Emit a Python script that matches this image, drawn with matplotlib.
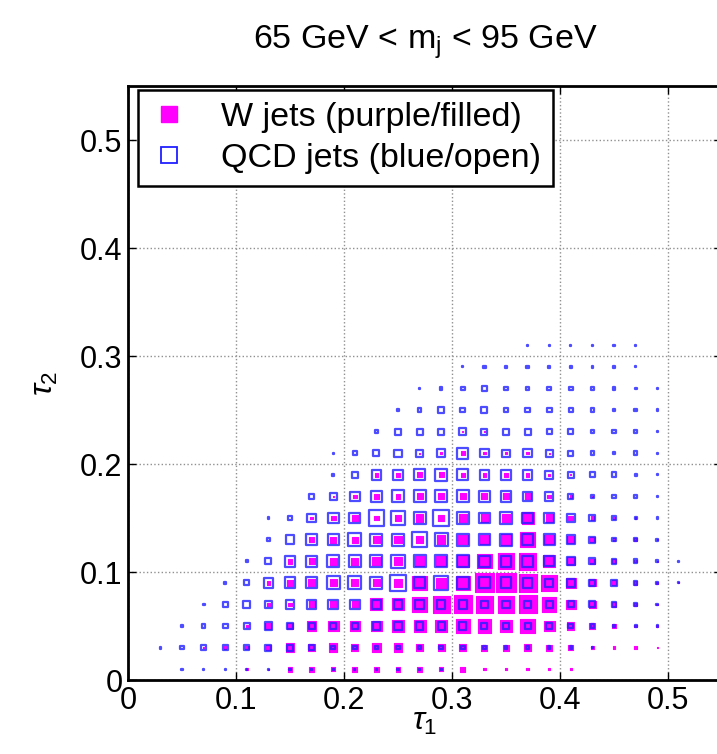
import numpy as np
import matplotlib
matplotlib.use("Agg")
import matplotlib.pyplot as plt
from matplotlib.patches import Rectangle
from matplotlib.collections import PatchCollection
from matplotlib.lines import Line2D

plt.rcParams['font.family'] = ['Liberation Sans', 'DejaVu Sans']
plt.rcParams['mathtext.fontset'] = 'custom'
plt.rcParams['mathtext.rm'] = 'Liberation Sans'
plt.rcParams['mathtext.it'] = 'Liberation Sans:italic'

# Bin centres of the 2D histogram
tau1_centres = [0.03, 0.05, 0.07, 0.09, 0.11, 0.13, 0.15, 0.17, 0.19, 0.21, 0.23,
                0.25, 0.27, 0.29, 0.31, 0.33, 0.35, 0.37, 0.39, 0.41, 0.43, 0.45,
                0.47, 0.49, 0.51]
tau2_centres = [0.01, 0.03, 0.05, 0.07, 0.09, 0.11, 0.13, 0.15, 0.17, 0.19, 0.21,
                0.23, 0.25, 0.27, 0.29, 0.31]
bin_width = 0.02
full_box = 18.0  # box value that fills a whole bin

# Relative box sizes, one row per tau2 bin (bottom to top), one column per tau1 bin
w_jets = [
    [0, 0, 0, 0, 2, 1, 4, 4, 3, 4, 4, 4, 4, 3, 4, 2, 2, 2, 2, 2, 0, 0, 0, 0, 0],
    [0, 0, 1, 2, 3, 4, 7, 6, 7, 6, 7, 7, 6, 6, 6, 5, 5, 6, 5, 4, 3, 2, 2, 1, 0],
    [0, 0, 0, 0, 2, 5, 5, 8, 9, 8, 9, 10, 10, 10, 12, 11, 10, 12, 9, 6, 5, 3, 2, 1.5, 0],
    [0, 0, 0, 0, 0, 2, 3, 5, 5, 5, 10, 10, 12, 14, 15, 14, 14, 15, 12, 8, 6, 4, 3, 1.5, 0],
    [0, 0, 0, 0, 0, 3, 5, 6, 6, 6, 6, 7, 12, 8, 12, 16, 16, 15, 13, 8, 6, 4, 3, 1.5, 1],
    [0, 0, 0, 0, 0, 0, 4, 5, 6, 6, 7, 7, 8, 8, 10, 12, 13, 14, 10, 7, 4, 3, 2, 1, 0],
    [0, 0, 0, 0, 0, 0, 0, 4, 5, 5, 6, 6, 6, 7, 8, 8, 9, 12, 8, 6, 4, 2, 2, 1, 0],
    [0, 0, 0, 0, 0, 0, 0, 2, 4, 5, 4, 5, 6, 5, 7, 6, 7, 10, 6, 4, 3, 2, 1, 0, 0],
    [0, 0, 0, 0, 0, 0, 0, 0, 1, 3, 4, 4, 5, 5, 5, 5, 5, 5, 3, 2, 1, 0, 0, 0, 0],
    [0, 0, 0, 0, 0, 0, 0, 0, 0, 0, 3, 3, 4, 4, 3, 3, 3, 3, 2, 1, 0, 0, 0, 0, 0],
    [0, 0, 0, 0, 0, 0, 0, 0, 0, 0, 0, 0, 1, 2, 3, 2, 2, 2, 1, 0, 0, 0, 0, 0, 0],
    [0, 0, 0, 0, 0, 0, 0, 0, 0, 0, 0, 0, 0, 0, 1, 1, 0, 0, 0, 0, 0, 0, 0, 0, 0],
    [0] * 25,
    [0] * 25,
    [0] * 25,
    [0] * 25,
]

qcd_jets = [
    [0, 1, 1, 1, 1, 1, 1, 1, 1, 1, 1, 1, 1, 1, 0, 0, 0, 0, 0, 0, 0, 0, 0, 0, 0],
    [1.5, 3, 4, 4, 4, 5, 5, 4, 3, 3, 3, 3, 3, 3, 3, 3, 2, 2, 2, 2, 1, 0, 0, 0, 0],
    [0, 1.5, 3, 4, 5, 6, 5, 5, 5, 5, 6, 6, 6, 6, 6, 5, 5, 5, 5, 4, 3, 2, 1.5, 1, 0],
    [0, 0, 1.5, 4, 6, 6, 7, 7, 8, 8, 7, 7, 7, 7, 7, 6, 6, 6, 6, 5, 5, 4, 2, 1.5, 0],
    [0, 0, 0, 2, 4, 8, 9, 9, 11, 11, 10, 13, 9, 12, 10, 9, 9, 8, 7, 7, 5, 5, 3, 1.5, 1],
    [0, 0, 0, 0, 1.5, 5, 9, 9, 10, 10, 10, 11, 10, 10, 10, 9, 9, 9, 8, 7, 5, 4, 3, 1.5, 1],
    [0, 0, 0, 0, 0, 3, 7, 9, 9, 11, 10, 10, 13, 11, 10, 9, 10, 9, 9, 7, 5, 3, 3, 1.5, 0],
    [0, 0, 0, 0, 0, 1.5, 3, 7, 9, 9, 13, 12, 10, 13, 10, 9, 10, 9, 8, 7, 5, 3, 1.5, 1, 0],
    [0, 0, 0, 0, 0, 0, 0, 4, 6, 8, 9, 10, 10, 10, 10, 9, 9, 8, 7, 4, 3, 3, 2, 1, 0],
    [0, 0, 0, 0, 0, 0, 0, 0, 2, 5, 8, 8, 9, 10, 9, 8, 8, 8, 7, 5, 4, 4, 1.5, 1, 0],
    [0, 0, 0, 0, 0, 0, 0, 0, 1, 3, 5, 6, 6, 7, 9, 7, 6, 7, 6, 4, 3, 2, 3, 1, 0],
    [0, 0, 0, 0, 0, 0, 0, 0, 0, 0, 3, 5, 5, 5, 6, 5, 5, 5, 4, 4, 3, 3, 2, 1, 0],
    [0, 0, 0, 0, 0, 0, 0, 0, 0, 0, 0, 1, 3, 5, 4, 5, 4, 4, 4, 3, 3, 2, 2, 1, 0],
    [0, 0, 0, 0, 0, 0, 0, 0, 0, 0, 0, 0, 1, 2, 3, 4, 3, 3, 3, 3, 2, 2, 1.5, 1, 0],
    [0, 0, 0, 0, 0, 0, 0, 0, 0, 0, 0, 0, 0, 0, 1, 2, 2, 2, 2, 2, 1.5, 1.5, 1, 0, 0],
    [0, 0, 0, 0, 0, 0, 0, 0, 0, 0, 0, 0, 0, 0, 0, 0, 0, 1, 1, 1, 1, 1, 1, 0, 0],
]

tick_values = [0, 0.1, 0.2, 0.3, 0.4, 0.5]
tick_labels = ['0', '0.1', '0.2', '0.3', '0.4', '0.5']

title_text = r'65 GeV < m$_\mathregular{j}$ < 95 GeV'
legend_labels = ['W jets (purple/filled)', 'QCD jets (blue/open)']

W_COLOR = '#ff00ff'
QCD_COLOR = '#2020ff'


def boxes(values):
    rects = []
    for iy, row in enumerate(values):
        for ix, v in enumerate(row):
            if v <= 0:
                continue
            side = v / full_box * bin_width
            rects.append(Rectangle((tau1_centres[ix] - side / 2,
                                    tau2_centres[iy] - side / 2), side, side))
    return rects


fig = plt.figure(figsize=(7.17, 7.54), dpi=100)
ax = fig.add_axes([128 / 717, 74 / 754, 594 / 717, 594 / 754])

ax.add_collection(PatchCollection(boxes(w_jets), facecolor=W_COLOR,
                                  edgecolor=W_COLOR, linewidth=0.8, zorder=3))
ax.add_collection(PatchCollection(boxes(qcd_jets), facecolor='none',
                                  edgecolor=QCD_COLOR, linewidth=1.6,
                                  alpha=0.8, zorder=4))

ax.set_xlim(0, 0.55)
ax.set_ylim(0, 0.55)
ax.set_xticks(tick_values)
ax.set_xticklabels(tick_labels)
ax.set_yticks(tick_values)
ax.set_yticklabels(tick_labels)
ax.tick_params(direction='in', length=6, width=1, top=True, right=True,
               labelsize=22, pad=4)
ax.grid(True, linestyle=':', color='#909090', linewidth=1.0)
ax.set_axisbelow(True)
for s in ax.spines.values():
    s.set_linewidth(2.0)

ax.set_xlabel(r'$\tau_1$', fontsize=23, labelpad=-6)
ax.set_ylabel(r'$\tau_2$', fontsize=23, labelpad=14)
ax.set_title(title_text, fontsize=24.5, pad=27)

handles = [
    Line2D([], [], linestyle='none', marker='s', markersize=12,
           markerfacecolor=W_COLOR, markeredgecolor=W_COLOR),
    Line2D([], [], linestyle='none', marker='s', markersize=11,
           markerfacecolor='none', markeredgecolor=QCD_COLOR, markeredgewidth=1.3),
]
leg = ax.legend(handles, legend_labels, loc='upper left',
                bbox_to_anchor=(10 / 594, 1 - 4 / 594), borderaxespad=0,
                fontsize=24.5, frameon=True, fancybox=False, framealpha=1,
                edgecolor='black', handlelength=1.1, handletextpad=1.0,
                labelspacing=0.3, borderpad=0.35)
leg.get_frame().set_linewidth(1.8)

fig.savefig('out.png', dpi=100)
